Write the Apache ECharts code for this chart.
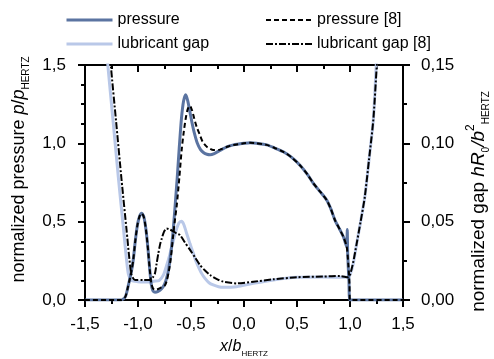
<!DOCTYPE html>
<html>
<head>
<meta charset="utf-8">
<script src="https://cdn.jsdelivr.net/npm/echarts@6/dist/echarts.min.js"></script>
<style>html,body{margin:0;padding:0;background:#fff}#c{width:494px;height:359px}</style>
</head>
<body>
<div id="c"></div>
<script>
// ---- data ----
const pressureX = [-1.5,-1.16,-1.12,-1.094,-1.06,-1.044,-1.025,-1.005,-0.985,-0.965,-0.945,-0.925,-0.905,-0.89,-0.875,-0.86,-0.84,-0.81,-0.78,-0.75,-0.73,-0.71,-0.69,-0.67,-0.65,-0.63,-0.61,-0.59,-0.57,-0.55,-0.53,-0.51,-0.49,-0.47,-0.44,-0.41,-0.38,-0.35,-0.32,-0.28,-0.226,-0.15,-0.1,0.0,0.057,0.12,0.214,0.29,0.371,0.45,0.528,0.6,0.654,0.72,0.78,0.82,0.858,0.906,0.94,0.969,0.974,0.978,0.99,1.0,1.5];
const pressureY = [0,0,0.02,0.085,0.19,0.26,0.38,0.48,0.535,0.553,0.53,0.45,0.32,0.2,0.1,0.06,0.05,0.055,0.07,0.1,0.14,0.2,0.3,0.43,0.6,0.78,0.98,1.16,1.27,1.31,1.27,1.2,1.13,1.07,1.0,0.96,0.94,0.93,0.927,0.935,0.955,0.98,0.99,1.0,1.004,1.0,0.99,0.97,0.946,0.91,0.86,0.8,0.745,0.69,0.638,0.58,0.51,0.447,0.4,0.34,0.45,0.3,0.12,0,0];

const pressureRefX = [-1.5,-1.16,-1.12,-1.094,-1.06,-1.044,-1.025,-1.005,-0.985,-0.965,-0.945,-0.925,-0.905,-0.89,-0.875,-0.86,-0.84,-0.81,-0.78,-0.75,-0.73,-0.71,-0.69,-0.67,-0.65,-0.635,-0.61,-0.588,-0.567,-0.547,-0.53,-0.51,-0.49,-0.47,-0.447,-0.42,-0.39,-0.352,-0.32,-0.29,-0.226,-0.15,-0.1,0.0,0.057,0.12,0.214,0.29,0.371,0.45,0.528,0.6,0.654,0.72,0.78,0.82,0.858,0.906,0.94,0.969,0.985,0.995,1.0,1.5];
const pressureRefY = [0,0,0.02,0.085,0.19,0.26,0.38,0.48,0.535,0.553,0.53,0.45,0.32,0.2,0.11,0.075,0.065,0.07,0.08,0.09,0.12,0.18,0.27,0.4,0.52,0.6,0.78,0.957,1.08,1.17,1.22,1.24,1.21,1.16,1.106,1.06,1.01,0.979,0.965,0.957,0.96,0.98,0.99,1.0,1.004,1.0,0.99,0.97,0.946,0.91,0.86,0.8,0.745,0.69,0.638,0.58,0.51,0.447,0.4,0.34,0.22,0.1,0,0];

const gapX = [-1.3,-1.283,-1.236,-1.183,-1.136,-1.108,-1.089,-1.06,-1.0,-0.95,-0.9,-0.85,-0.8,-0.76,-0.73,-0.7,-0.67,-0.64,-0.615,-0.59,-0.57,-0.541,-0.51,-0.478,-0.455,-0.431,-0.4,-0.368,-0.33,-0.29,-0.24,-0.195,-0.07,0.088,0.277,0.497,0.75,0.96,0.98,1.0,1.03,1.063,1.1,1.14,1.18,1.22,1.247,1.265];
const gapY = [0.163,0.1487,0.1149,0.0766,0.0447,0.0255,0.016,0.0125,0.0117,0.0115,0.0115,0.012,0.0125,0.016,0.022,0.029,0.037,0.0445,0.049,0.0502,0.0485,0.0425,0.036,0.0298,0.025,0.0213,0.017,0.0138,0.011,0.0096,0.0085,0.0081,0.0085,0.0106,0.0128,0.0145,0.0147,0.0145,0.0145,0.016,0.023,0.036,0.05,0.066,0.09,0.115,0.149,0.17];

const gapRefX = [-1.27,-1.255,-1.208,-1.155,-1.108,-1.08,-1.061,-1.028,-0.95,-0.887,-0.86,-0.84,-0.825,-0.808,-0.79,-0.777,-0.755,-0.73,-0.7,-0.67,-0.635,-0.604,-0.56,-0.509,-0.46,-0.415,-0.37,-0.32,-0.26,-0.195,-0.07,0.088,0.277,0.497,0.75,0.906,0.985,1.0,1.03,1.063,1.1,1.14,1.18,1.22,1.252,1.27];
const gapRefY = [0.163,0.1487,0.1149,0.0766,0.0447,0.0255,0.016,0.0128,0.0128,0.0128,0.0145,0.017,0.023,0.0298,0.036,0.039,0.0435,0.0457,0.045,0.044,0.0425,0.0415,0.037,0.032,0.027,0.0223,0.019,0.016,0.0135,0.0117,0.0106,0.0117,0.0132,0.0145,0.015,0.0153,0.0145,0.016,0.024,0.036,0.05,0.066,0.09,0.115,0.149,0.17];

const xTicks = [-1.5,1.5,0.5];
const pTicks = [0,1.5,0.5];
const hTicks = [0,0.15,0.05];

const zip = (xs, ys) => xs.map((x, i) => [x, ys[i]]);
const fmt = (d) => (v) => v.toFixed(d).replace('.', ',');
const FONT = 'Liberation Sans, Arial, sans-serif';
const TICK = 17, TITLE = 18;

const chart = echarts.init(document.getElementById('c'), null, {renderer: 'canvas'});
const line = {show: true, onZero: false, lineStyle: {color: '#000', width: 2}};
const tick = (inside) => ({show: true, inside: !!inside, length: 7, lineStyle: {color: '#000', width: 2}});
const minor = (n) => ({show: true, splitNumber: n, length: 4, lineStyle: {color: '#000', width: 2}});
const mkRich = (fs, subFs) => ({
  i: {fontStyle: 'italic', fontSize: fs, fontFamily: FONT, lineHeight: 22, verticalAlign: 'bottom'},
  n: {fontSize: fs, fontFamily: FONT, lineHeight: 22, verticalAlign: 'bottom'},
  sub: {fontSize: subFs, fontFamily: FONT, lineHeight: 22, verticalAlign: 'bottom', padding: [0, 0, -3, 0]},
  sup: {fontSize: 12, fontFamily: FONT, lineHeight: 22, verticalAlign: 'top', padding: [-1, 0, 0, 0]}
});
const legendText = {fontFamily: FONT, fontSize: 16, color: '#000'};
chart.setOption({
  animation: false,
  backgroundColor: '#fff',
  grid: {left: 85, right: 91, top: 65, bottom: 59, containLabel: false, outerBoundsMode: 'none'},
  legend: [
    {left: 60, top: 7, orient: 'vertical', itemWidth: 46, itemHeight: 14, itemGap: 8,
     itemStyle: {opacity: 0}, lineStyle: {width: 3}, textStyle: legendText, data: ['pressure', 'lubricant gap']},
    {left: 260, top: 7, orient: 'vertical', itemWidth: 46, itemHeight: 14, itemGap: 8,
     itemStyle: {opacity: 0}, textStyle: legendText, data: ['pressure [8]', 'lubricant gap [8]']}
  ],
  xAxis: [
    {type: 'value', min: xTicks[0], max: xTicks[1], interval: xTicks[2], position: 'bottom',
     axisLine: line, splitLine: {show: false}, axisTick: tick(false), minorTick: minor(2),
     axisLabel: {formatter: fmt(1), fontFamily: FONT, fontSize: TICK, color: '#000', margin: 16},
     name: '{i|x}{n|/}{i|b}{sub|HERTZ}', nameLocation: 'middle', nameGap: 33,
     nameTextStyle: {fontFamily: FONT, fontSize: 16, color: '#000', rich: mkRich(16, 8)}},
    {type: 'value', min: xTicks[0], max: xTicks[1], interval: xTicks[2], position: 'top',
     axisLine: line, splitLine: {show: false}, axisLabel: {show: false},
     axisTick: tick(true), minorTick: minor(2)}
  ],
  yAxis: [
    {type: 'value', min: pTicks[0], max: pTicks[1], interval: pTicks[2], position: 'left',
     axisLine: line, splitLine: {show: false}, axisTick: tick(false), minorTick: minor(4),
     axisLabel: {formatter: fmt(1), fontFamily: FONT, fontSize: TICK, color: '#000', margin: 19},
     name: '{n|normalized pressure }{i|p}{n|/}{i|p}{sub|HERTZ}', nameLocation: 'middle', nameGap: 48,
     nameTextStyle: {fontFamily: FONT, fontSize: TITLE, color: '#000', rich: mkRich(TITLE, 10), padding: [0, 0, 0, 26]}},
    {type: 'value', min: hTicks[0], max: hTicks[1], interval: hTicks[2], position: 'right',
     axisLine: line, splitLine: {show: false}, axisTick: tick(false), minorTick: minor(2),
     axisLabel: {formatter: fmt(2), fontFamily: FONT, fontSize: TICK, color: '#000', margin: 18},
     name: '{n|normalized gap }{i|hR}{sub|0}{i|/b}{sup|2}{sub|HERTZ}', nameLocation: 'middle', nameGap: 62,
     nameTextStyle: {fontFamily: FONT, fontSize: 19, color: '#000', rich: mkRich(19, 10), padding: [0, 38, 0, 0]}}
  ],
  series: [
    {name: 'lubricant gap', type: 'line', xAxisIndex: 0, yAxisIndex: 1, data: zip(gapX, gapY),
     showSymbol: false, symbol: 'none', smooth: 0.25, z: 2,
     lineStyle: {color: '#b9c8e8', width: 3}, itemStyle: {color: '#b9c8e8'}},
    {name: 'pressure', type: 'line', xAxisIndex: 0, yAxisIndex: 0, data: zip(pressureX, pressureY),
     showSymbol: false, symbol: 'none', smooth: 0.25, z: 3,
     lineStyle: {color: '#5b74a1', width: 3}, itemStyle: {color: '#5b74a1'}},
    {name: 'pressure [8]', type: 'line', xAxisIndex: 0, yAxisIndex: 0, data: zip(pressureRefX, pressureRefY),
     showSymbol: false, symbol: 'none', smooth: 0.25, z: 4,
     lineStyle: {color: '#000', width: 2, type: [5, 3]}, itemStyle: {color: '#000'}},
    {name: 'lubricant gap [8]', type: 'line', xAxisIndex: 0, yAxisIndex: 1, data: zip(gapRefX, gapRefY),
     showSymbol: false, symbol: 'none', smooth: 0.25, z: 5,
     lineStyle: {color: '#000', width: 2, type: [7, 2, 2, 2]}, itemStyle: {color: '#000'}}
  ]
});
</script>
</body>
</html>
